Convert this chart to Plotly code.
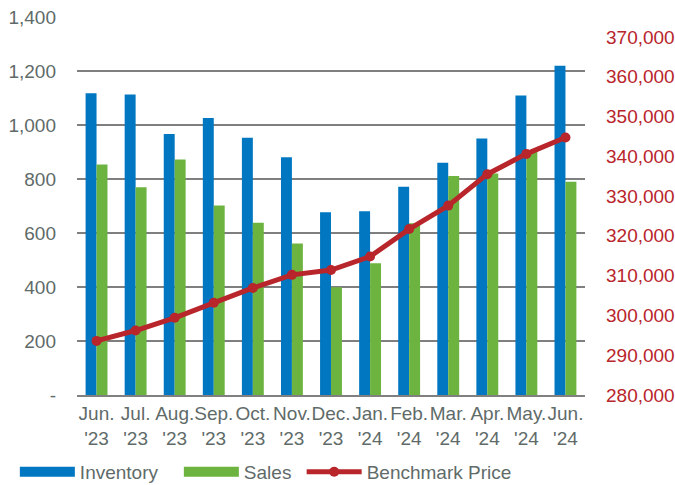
import plotly.graph_objects as go

months = ["Jun.<br>'23", "Jul.<br>'23", "Aug.<br>'23", "Sep.<br>'23", "Oct.<br>'23", "Nov.<br>'23",
          "Dec.<br>'23", "Jan.<br>'24", "Feb.<br>'24", "Mar.<br>'24", "Apr.<br>'24", "May.<br>'24",
          "Jun.<br>'24"]
inventory = [1118, 1113, 967, 1026, 953, 881, 677, 681, 771, 860, 950, 1109, 1219]
sales = [854, 769, 872, 702, 638, 561, 399, 488, 636, 811, 820, 901, 790]
benchmark = [293600, 296200, 299400, 303200, 306900, 310200, 311400, 314800, 321700,
             327600, 335500, 340600, 344700]

left_ticks = [0, 200, 400, 600, 800, 1000, 1200, 1400]
left_text = ['-', '200', '400', '600', '800', '1,000', '1,200', '1,400']
right_ticks = [280000, 290000, 300000, 310000, 320000, 330000, 340000, 350000, 360000, 370000]

grey = '#5f6b69'
red = '#b8252b'
blue = '#0077c0'
green = '#6db33f'
fs = 19

fig = go.Figure()
fig.add_trace(go.Bar(name='Inventory', x=months, y=inventory, marker_color=blue,
                     marker_line_width=0, showlegend=False))
fig.add_trace(go.Bar(name='Sales', x=months, y=sales, marker_color=green,
                     marker_line_width=0, showlegend=False))
fig.add_trace(go.Scatter(name='Benchmark Price', x=months, y=benchmark, yaxis='y2',
                         mode='lines+markers', line=dict(color=red, width=5),
                         marker=dict(color=red, size=10), showlegend=False))

# legend entries drawn as wide blocks like the original
for name, col in [('Inventory' + '\u00a0' * 3, blue), ('Sales' + '\u00a0', green)]:
    fig.add_trace(go.Scatter(name=name, x=[None], y=[None], mode='lines',
                             line=dict(color=col, width=10)))
fig.add_trace(go.Scatter(name='Benchmark Price', x=[None], y=[None], yaxis='y2',
                         mode='lines+markers', line=dict(color=red, width=5),
                         marker=dict(color=red, size=10)))

fig.update_layout(
    width=675, height=485,
    margin=dict(l=77, r=90, t=17, b=90),
    paper_bgcolor='white', plot_bgcolor='white',
    font=dict(family='Liberation Sans, Arial, sans-serif', size=fs, color=grey),
    barmode='group', bargap=0.44, bargroupgap=0,
    showlegend=True,
    legend=dict(orientation='h', xref='container', yref='container',
                x=0.022, y=0.027, xanchor='left', yanchor='middle',
                font=dict(size=fs, color=grey), itemwidth=55, tracegroupgap=0),
    xaxis=dict(range=[-0.5, len(months) - 0.5], showgrid=False, showline=True,
               linecolor='#808080', linewidth=2,
               tickfont=dict(size=fs, color=grey), ticks='', automargin=False,
               tickangle=0, ticklabelstandoff=0),
    yaxis=dict(range=[0, 1400], tickvals=left_ticks, ticktext=left_text,
               showgrid=True, gridcolor='#7f7f7f', gridwidth=1.5, zeroline=False,
               tickfont=dict(size=fs, color=grey), ticklabelstandoff=20, automargin=False),
    yaxis2=dict(range=[280000, 375000], tickvals=right_ticks, tickformat=',d',
                overlaying='y', side='right', showgrid=False, zeroline=False,
                tickfont=dict(size=fs, color=red), ticklabelstandoff=20, automargin=False),
)

fig.write_html("out.html", config={'displayModeBar': False},
               post_script="document.body.style.margin='0';")
